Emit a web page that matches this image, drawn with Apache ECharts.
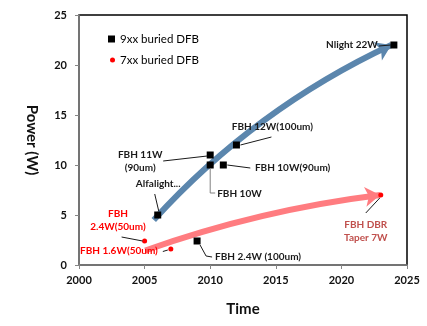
<!DOCTYPE html>
<html><head><meta charset="utf-8">
<script src="https://cdn.jsdelivr.net/npm/echarts@6/dist/echarts.min.js"></script>
<style>html,body{margin:0;padding:0;background:#fff}#c{width:427px;height:326px}</style>
</head><body><div id="c"></div>
<script>
// ---- data ----
const years9 = [2006, 2009, 2010, 2010, 2011, 2012, 2024];
const power9 = [5, 2.4, 11, 10, 10, 12, 22];
const labels9 = ['Alfalight...', 'FBH 2.4W (100um)', 'FBH 11W\n(90um)', 'FBH 10W', 'FBH 10W(90um)', 'FBH 12W(100um)', 'Nlight 22W'];
const years7 = [2005, 2007, 2023];
const power7 = [2.4, 1.6, 7];
const labels7 = ['FBH\n2.4W(50um)', 'FBH 1.6W(50um)', 'FBH DBR\nTaper 7W'];
const trend9 = [[2005.7, 4.5], [2023.8, 22]];
const trend7 = [[2005.05, 1.45], [2022.95, 7]];
const xTicks = [2000, 2005, 2010, 2015, 2020, 2025];
const yTicks = [0, 5, 10, 15, 20, 25];
const seriesNames = ['9xx buried DFB', '7xx buried DFB'];

// ---- annotation layout (pixel offsets from marker) ----
const layout9 = [
  {dx: 0.5, dy: -31, align: 'center', leader: [[-3, -21], [1, -4]]},
  {dx: 18, dy: 16, align: 'left', leader: [[3, 4], [9, 15], [15, 16]]},
  {dx: -70, dy: 6, align: 'center', leader: [[-47, 6], [-3, 1]]},
  {dx: 7, dy: 29, align: 'left', leader: [[0, 4], [0, 28], [5, 28]], lc: '#808080'},
  {dx: 31.6, dy: 3, align: 'left', leader: [[4, 0], [27, 3]]},
  {dx: 36, dy: -18, align: 'center', leader: [[4, 0], [35, -8]]},
  {dx: -16, dy: 0, align: 'right', leader: [[-15, 1], [-3, 0]]}
];
const layout7 = [
  {dx: -26.6, dy: -21, align: 'center', leader: [[-23, -4], [-2, 0]], color: '#ff0000'},
  {dx: -13, dy: 2, align: 'right', leader: [[-8, 2.5], [-3, 1]], color: '#ff0000'},
  {dx: -15, dy: 36.5, align: 'center', leader: [[-15, 18], [-1, 3]], color: '#c0504d'}
];

const FONT = 'Lato';
function annRenderer(labels, layout) {
  return function (params, api) {
    const i = api.value(2);
    const a = layout[i];
    const p = api.coord([api.value(0), api.value(1)]);
    return {
      type: 'group',
      children: [
        {type: 'polyline', shape: {points: a.leader.map(q => [p[0] + q[0], p[1] + q[1]])},
         style: {stroke: a.lc || '#1a1a1a', lineWidth: 1, fill: null}},
        {type: 'text', x: p[0] + a.dx, y: p[1] + a.dy,
         style: {text: labels[i], fill: a.color || '#1a1a1a', fontFamily: FONT, fontWeight: 'bold', fontSize: 10,
                 align: a.align, verticalAlign: 'middle', lineHeight: 13}}
      ]
    };
  };
}

const chart = echarts.init(document.getElementById('c'));
chart.setOption({
  animation: false,
  textStyle: {fontFamily: FONT},
  grid: {left: 79, right: 20, top: 15, bottom: 61, show: true, borderColor: '#000', borderWidth: 1.5, containLabel: false},
  legend: [
    {data: [{name: seriesNames[0], icon: 'rect'}], left: 103, top: 28, itemWidth: 7, itemHeight: 7,
     textStyle: {fontSize: 11.5, color: '#000', fontFamily: FONT}},
    {data: [{name: seriesNames[1], icon: 'circle'}], left: 105, top: 49, itemWidth: 5, itemHeight: 5,
     textStyle: {fontSize: 11.5, color: '#000', fontFamily: FONT}}
  ],
  xAxis: {
    type: 'value', min: xTicks[0], max: xTicks[xTicks.length - 1], interval: 5,
    name: 'Time', nameLocation: 'middle', nameGap: 37,
    nameTextStyle: {fontSize: 15, fontWeight: 'bold', color: '#111', fontFamily: FONT},
    axisLine: {lineStyle: {color: '#868686', width: 1.5}},
    axisTick: {show: true, length: 4, lineStyle: {color: '#868686'}},
    axisLabel: {margin: 10, fontSize: 11, fontWeight: 'bold', color: '#111', fontFamily: FONT,
                formatter: v => String(v)},
    splitLine: {show: false}
  },
  yAxis: {
    type: 'value', min: yTicks[0], max: yTicks[yTicks.length - 1], interval: 5,
    name: 'Power (W)', nameLocation: 'middle', nameGap: 40, nameRotate: 270,
    nameTextStyle: {fontSize: 15, fontWeight: 'bold', color: '#111', fontFamily: FONT},
    axisLine: {show: true, lineStyle: {color: '#868686', width: 1.5}},
    axisTick: {show: true, length: 4, lineStyle: {color: '#868686'}},
    axisLabel: {margin: 12, fontSize: 11, fontWeight: 'bold', color: '#111', fontFamily: FONT},
    splitLine: {show: false}
  },
  series: [
    {type: 'lines', coordinateSystem: 'cartesian2d', silent: true, z: 1,
     symbol: ['none', 'arrow'], symbolSize: 15,
     lineStyle: {color: '#5b86ad', width: 6, opacity: 1, curveness: 0.1},
     data: [{coords: trend9}]},
    {type: 'lines', coordinateSystem: 'cartesian2d', silent: true, z: 1,
     symbol: ['none', 'arrow'], symbolSize: 15,
     lineStyle: {color: '#ff7c80', width: 6, opacity: 1, curveness: 0.055},
     data: [{coords: trend7}]},
    {name: seriesNames[0], type: 'scatter', symbol: 'rect', symbolSize: 7, z: 3,
     itemStyle: {color: '#000', opacity: 1}, data: years9.map((x, i) => [x, power9[i]])},
    {name: seriesNames[1], type: 'scatter', symbol: 'circle', symbolSize: 5, z: 3,
     itemStyle: {color: '#ff0000', opacity: 1}, data: years7.map((x, i) => [x, power7[i]])},
    {type: 'custom', silent: true, z: 4, clip: false,
     renderItem: annRenderer(labels9, layout9), data: years9.map((x, i) => [x, power9[i], i])},
    {type: 'custom', silent: true, z: 4, clip: false,
     renderItem: annRenderer(labels7, layout7), data: years7.map((x, i) => [x, power7[i], i])}
  ]
});
</script></body></html>
